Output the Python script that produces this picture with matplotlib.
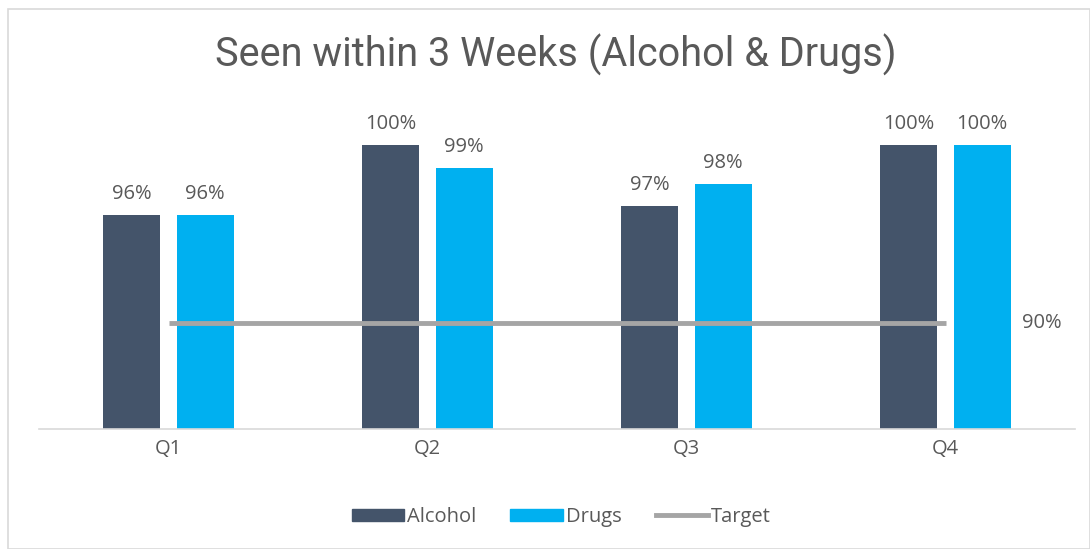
import matplotlib
matplotlib.use("Agg")
import matplotlib.pyplot as plt
from matplotlib.patches import Rectangle
from matplotlib.lines import Line2D
import numpy as np

categories = ["Q1", "Q2", "Q3", "Q4"]
alcohol = [96.05, 100.0, 96.55, 100.0]
drugs = [96.05, 98.7, 97.8, 100.0]
target = [90, 90, 90, 90]

C_ALC = "#44546A"
C_DRUG = "#00B0F0"
C_TGT = "#A5A5A5"
C_TXT = "#595959"
FONT = ["Open Sans", "DejaVu Sans"]
FS = 14.5

W, H = 1090, 549
fig = plt.figure(figsize=(W / 100, H / 100), dpi=100)
fig.patch.set_facecolor("white")
# chart border
fig.add_artist(Rectangle((8 / W, 0), (W - 8) / W, (H - 9) / H, transform=fig.transFigure,
                         fill=False, edgecolor="#D9D9D9", linewidth=1.2))

bottom_px, top_px = 429, 92
ax = fig.add_axes([39 / W, (H - bottom_px) / H, (1075 - 39) / W, (bottom_px - top_px) / H])
ax.set_xlim(-0.5, 3.5)
ax.set_ylim(84, 103)

x = np.arange(len(categories))
bw = 0.22
off = 0.141
ax.bar(x - off, [a - 84 for a in alcohol], bw, bottom=84, color=C_ALC, label="Alcohol", zorder=2)
ax.bar(x + off, [d - 84 for d in drugs], bw, bottom=84, color=C_DRUG, label="Drugs", zorder=2)
ax.plot(x, target, color=C_TGT, linewidth=3.5, label="Target", zorder=3, solid_capstyle="butt")

for xi, v in zip(x - off, alcohol):
    ax.annotate(f"{round(v):.0f}%", (xi, v), xytext=(0, 8), textcoords="offset points",
                ha="center", va="bottom", fontsize=FS, color=C_TXT, family=FONT)
for xi, v in zip(x + off, drugs):
    ax.annotate(f"{round(v):.0f}%", (xi, v), xytext=(0, 8), textcoords="offset points",
                ha="center", va="bottom", fontsize=FS, color=C_TXT, family=FONT)
ax.annotate(f"{target[-1]}%", (x[-1], target[-1]), xytext=(55, 0), textcoords="offset points",
            ha="left", va="center", fontsize=FS, color=C_TXT, family=FONT)

for s in ["top", "right", "left"]:
    ax.spines[s].set_visible(False)
ax.spines["bottom"].set_color("#D9D9D9")
ax.spines["bottom"].set_linewidth(1.2)
ax.set_yticks([])
ax.set_xticks(x)
ax.set_xticklabels(categories, fontsize=FS, color=C_TXT, family=FONT)
ax.tick_params(axis="x", length=0, pad=7)

fig.text(0.51, (H - 55) / H, "Seen within 3 Weeks (Alcohol & Drugs)", ha="center", va="center",
         fontsize=28.5, color=C_TXT, family=["Roboto", "DejaVu Sans"])

handles = [Rectangle((0, 0), 1, 1, color=C_ALC), Rectangle((0, 0), 1, 1, color=C_DRUG),
           Line2D([0], [0], color=C_TGT, linewidth=3.5)]
fig.legend(handles, ["Alcohol", "Drugs", "Target"], loc="center", bbox_to_anchor=(0.515, (H - 517) / H),
           ncol=3, frameon=False, prop={"family": FONT, "size": FS}, labelcolor=C_TXT,
           handlelength=2.6, handleheight=0.6, handletextpad=0.15, columnspacing=1.7)

fig.savefig("out.png", dpi=100, facecolor="white")
